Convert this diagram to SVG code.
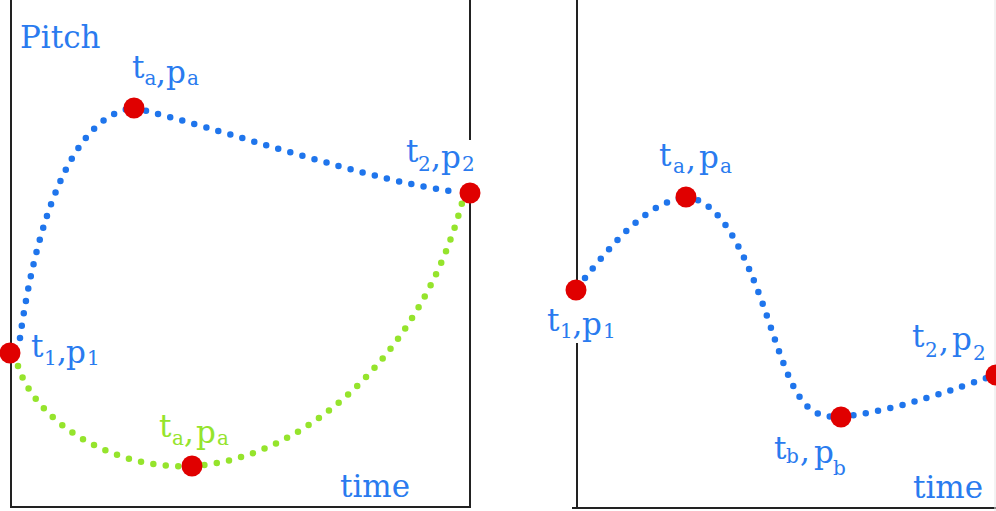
<svg xmlns="http://www.w3.org/2000/svg" width="996" height="511" viewBox="0 0 996 511">
<style>
.ax{stroke:#222;stroke-width:2;fill:none}
.dot{fill:#E00000}
.lbl{font-family:"DejaVu Serif","Liberation Serif",serif;font-size:31px;fill:#2A7BEF}
.g{fill:#95E42C}
.sub{font-size:20px}
.cb{fill:none;stroke:#1F75EC;stroke-width:6.5;stroke-linecap:round;stroke-dasharray:0 12.5}
.cg{fill:none;stroke:#95E42C;stroke-width:6.5;stroke-linecap:round;stroke-dasharray:0 12.5}
</style>
<rect width="996" height="511" fill="#fff"/>
<g id="axes">
<path class="ax" d="M11 0V507H471"/>
<path class="ax" d="M470 0V140M470 183V507"/>
<path class="ax" d="M577 0V300M577 343V508M572 508H996"/>
<path d="M995 0V511" stroke="#e6e6e6" stroke-width="1"/>
<text class="lbl" x="20" y="48">Pitch</text>
<text class="lbl" x="340" y="497">time</text>
<text class="lbl" x="913" y="498">time</text>
</g>
<g id="connectors">
<path class="cb" d="M20 338C35 230 70 115 134 108"/>
<path class="cb" d="M134 108C210 125 380 185 460 192"/>
<path class="cg" d="M18 366C35 420 110 470 192 466"/>
<path class="cg" d="M192 466C300 460 420 360 462 203"/>
<path class="cb" d="M585 278C612 245 645 203 686 197"/>
<path class="cb" d="M686 197C720 200 745 250 770 325C795 400 805 418 841 417"/>
<path class="cb" d="M841 417C900 410 950 390 996 375"/>
</g>
<g id="n-left-t1">
<circle class="dot" cx="10" cy="353" r="10.5"/>
<text class="lbl"><tspan x="31" y="357">t</tspan><tspan class="sub" x="44" y="365">1</tspan><tspan x="57" y="362">,</tspan><tspan x="66" y="363">p</tspan><tspan class="sub" x="87" y="365">1</tspan></text>
</g>
<g id="n-left-ta">
<circle class="dot" cx="134" cy="108" r="10.5"/>
<text class="lbl"><tspan x="132" y="78">t</tspan><tspan class="sub" x="144.5" y="85">a</tspan><tspan x="156" y="84">,</tspan><tspan x="166" y="83">p</tspan><tspan class="sub" x="187" y="85">a</tspan></text>
</g>
<g id="n-left-t2">
<circle class="dot" cx="470" cy="193" r="10.5"/>
<text class="lbl"><tspan x="406" y="162">t</tspan><tspan class="sub" x="418" y="171">2</tspan><tspan x="431" y="168">,</tspan><tspan x="441" y="168">p</tspan><tspan class="sub" x="462" y="171">2</tspan></text>
</g>
<g id="n-left-ta-green">
<circle class="dot" cx="192" cy="466" r="10.5"/>
<text class="lbl g"><tspan x="159" y="437">t</tspan><tspan class="sub" x="172" y="445">a</tspan><tspan x="184" y="443">,</tspan><tspan x="196" y="443">p</tspan><tspan class="sub" x="217" y="445">a</tspan></text>
</g>
<g id="n-right-t1">
<circle class="dot" cx="576" cy="290" r="10.5"/>
<text class="lbl"><tspan x="547" y="331">t</tspan><tspan class="sub" x="560" y="338">1</tspan><tspan x="572.5" y="335">,</tspan><tspan x="582" y="335">p</tspan><tspan class="sub" x="603" y="338">1</tspan></text>
</g>
<g id="n-right-ta">
<circle class="dot" cx="686" cy="197" r="10.5"/>
<text class="lbl"><tspan x="659" y="166">t</tspan><tspan class="sub" x="673" y="173">a</tspan><tspan x="686" y="170">,</tspan><tspan x="699" y="168">p</tspan><tspan class="sub" x="720" y="173">a</tspan></text>
</g>
<g id="n-right-tb">
<circle class="dot" cx="841" cy="417" r="10.5"/>
<text class="lbl"><tspan x="774" y="459">t</tspan><tspan class="sub" x="786" y="463">b</tspan><tspan x="800" y="462">,</tspan><tspan x="814" y="463">p</tspan><tspan class="sub" x="833" y="475">b</tspan></text>
</g>
<g id="n-right-t2">
<circle class="dot" cx="996" cy="375" r="10.5"/>
<text class="lbl"><tspan x="912" y="347">t</tspan><tspan class="sub" x="925" y="357">2</tspan><tspan x="939" y="352">,</tspan><tspan x="952" y="350">p</tspan><tspan class="sub" x="973" y="360">2</tspan></text>
</g>
</svg>
